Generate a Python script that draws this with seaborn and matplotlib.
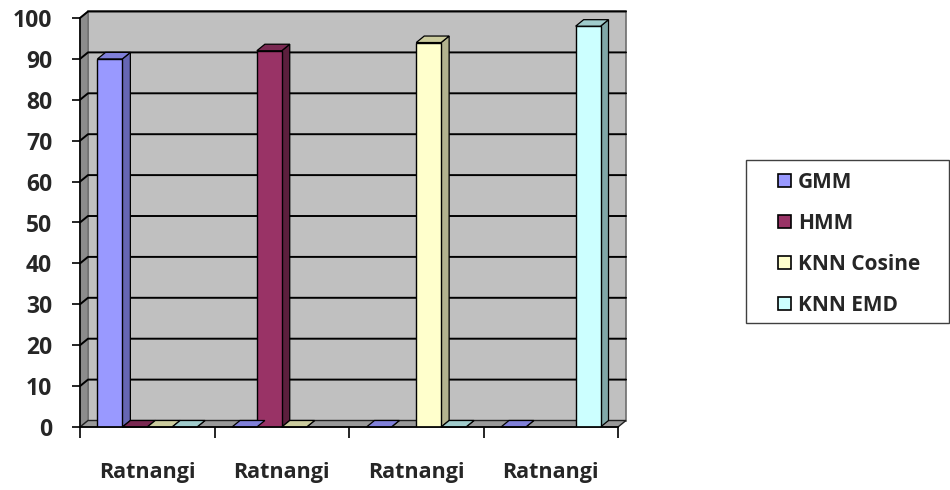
import matplotlib
matplotlib.use("Agg")
import matplotlib.pyplot as plt
from matplotlib.patches import Polygon, Patch, Rectangle
import numpy as np
import pandas as pd
import seaborn as sns

# ---- data -------------------------------------------------------------
group_labels = ["Ratnangi", "Ratnangi", "Ratnangi", "Ratnangi"]
methods = ["GMM", "HMM", "KNN Cosine", "KNN EMD"]
# accuracy per method in each of the four groups (None = not measured)
gmm = [90, 0, 0, 0]
hmm = [0, 92, None, None]
knn_cosine = [0, 0, 94, None]
knn_emd = [0, None, 0, 98]
y_ticks = [0, 10, 20, 30, 40, 50, 60, 70, 80, 90, 100]

face_colors = ["#9999FF", "#993366", "#FFFFCC", "#CCFFFF"]
side_colors = ["#6666B3", "#5C1F3D", "#B3B38F", "#80A8A8"]
top_colors = ["#8080D9", "#7A2952", "#CCCC9E", "#A0CCCC"]

rows = []
for name, vals in zip(methods, [gmm, hmm, knn_cosine, knn_emd]):
    for g, v in enumerate(vals):
        if v is not None:
            rows.append({"group": g, "method": name, "value": v})
df = pd.DataFrame(rows)

# ---- figure -------------------------------------------------------------
sns.set_theme(style="white")
plt.rcParams["font.family"] = ["Open Sans", "DejaVu Sans"]
plt.rcParams["font.weight"] = "bold"

W, H = 950, 490
fig = plt.figure(figsize=(W / 100, H / 100), dpi=100)
ax_l, ax_b, ax_w, ax_h = 80, 63, 538, 409
ax = fig.add_axes([ax_l / W, ax_b / H, ax_w / W, ax_h / H])
ax.patch.set_visible(False)

x0, x1 = -0.5, 3.5
y0, y1 = 0, 100
# depth of the pseudo-3D walls and bars, in pixels -> data units
dx = 8 / ax_w * (x1 - x0)
dy = 6.5 / ax_h * (y1 - y0)

sns.barplot(data=df, x="group", y="value", hue="method", hue_order=methods,
            order=[0, 1, 2, 3], palette=face_colors, width=0.74, dodge=True,
            edgecolor="black", linewidth=1.0, saturation=1, legend=False,
            ax=ax, zorder=3)

ax.set_xlim(x0, x1)
ax.set_ylim(y0, y1)

# back wall, left wall and floor
ax.add_patch(Polygon([(x0 + dx, y0 + dy), (x1 + dx, y0 + dy), (x1 + dx, y1 + dy),
                      (x0 + dx, y1 + dy)], closed=True, facecolor="#C0C0C0",
                     edgecolor="#6E6E6E", linewidth=1.2, zorder=0, clip_on=False))
ax.add_patch(Polygon([(x0, y0), (x0, y1), (x0 + dx, y1 + dy), (x0 + dx, y0 + dy)],
                     closed=True, facecolor="#8C8C8C", edgecolor="#6E6E6E",
                     linewidth=1.0, zorder=0.2, clip_on=False))
ax.add_patch(Polygon([(x0, y0), (x1, y0), (x1 + dx, y0 + dy), (x0 + dx, y0 + dy)],
                     closed=True, facecolor="#999999", edgecolor="#202020",
                     linewidth=1.0, zorder=0.6, clip_on=False))

# grid lines running across the left wall and the back wall
for t in y_ticks[1:]:
    ax.plot([x0, x0 + dx, x1 + dx], [t, t + dy, t + dy], color="black",
            linewidth=1.4, zorder=0.5, clip_on=False)

# side and top faces of every bar
for k, container in enumerate(ax.containers):
    for bar in container.patches:
        bx, bw, bh = bar.get_x(), bar.get_width(), bar.get_height()
        if np.isnan(bh):
            continue
        xr = bx + bw
        ax.add_patch(Polygon([(xr, 0), (xr + dx, dy), (xr + dx, bh + dy), (xr, bh)],
                             closed=True, facecolor=side_colors[k],
                             edgecolor="black", linewidth=0.9, zorder=2.9,
                             clip_on=False))
        ax.add_patch(Polygon([(bx, bh), (xr, bh), (xr + dx, bh + dy), (bx + dx, bh + dy)],
                             closed=True, facecolor=top_colors[k],
                             edgecolor="black", linewidth=0.9, zorder=3.1,
                             clip_on=False))

# axes, ticks and labels
for s in ["top", "right"]:
    ax.spines[s].set_visible(False)
for s in ["left", "bottom"]:
    ax.spines[s].set_visible(True)
    ax.spines[s].set_color("black")
    ax.spines[s].set_linewidth(1.2)
    ax.spines[s].set_zorder(4)

ax.set_yticks(y_ticks)
ax.set_yticklabels([str(t) for t in y_ticks], fontsize=16.5, fontweight="bold")
ax.tick_params(axis="y", direction="out", length=6, width=1.2, color="black",
               pad=14, left=True)

ax.set_xticks([0, 1, 2, 3])
ax.set_xticklabels(group_labels, fontsize=15.5, fontweight="bold")
ax.tick_params(axis="x", which="major", length=0, pad=25)
ax.set_xticks([-0.5, 0.5, 1.5, 2.5, 3.5], minor=True)
ax.tick_params(axis="x", which="minor", direction="out", length=8, width=1.2,
               color="black", bottom=True)
ax.set_xlabel("")
ax.set_ylabel("")

# legend: entries without a frame, boxed by a separate rectangle
fig.add_artist(Rectangle((746 / W, 1 - 323 / H), 203 / W, 163 / H,
                         transform=fig.transFigure, facecolor="white",
                         edgecolor="#404040", linewidth=1.0, zorder=1))
handles = [Patch(facecolor=c, edgecolor="black", linewidth=1.2) for c in face_colors]
leg = fig.legend(handles, methods, loc="upper left",
                 bbox_to_anchor=(778 / W, 1 - 172 / H),
                 borderaxespad=0, borderpad=0, frameon=False,
                 prop={"family": ["Open Sans", "DejaVu Sans"], "weight": "bold",
                       "size": 15},
                 handlelength=0.62, handleheight=0.62, handletextpad=0.35,
                 labelspacing=0.96)
leg.set_zorder(2)

fig.savefig("out.png", dpi=100, facecolor="white")
